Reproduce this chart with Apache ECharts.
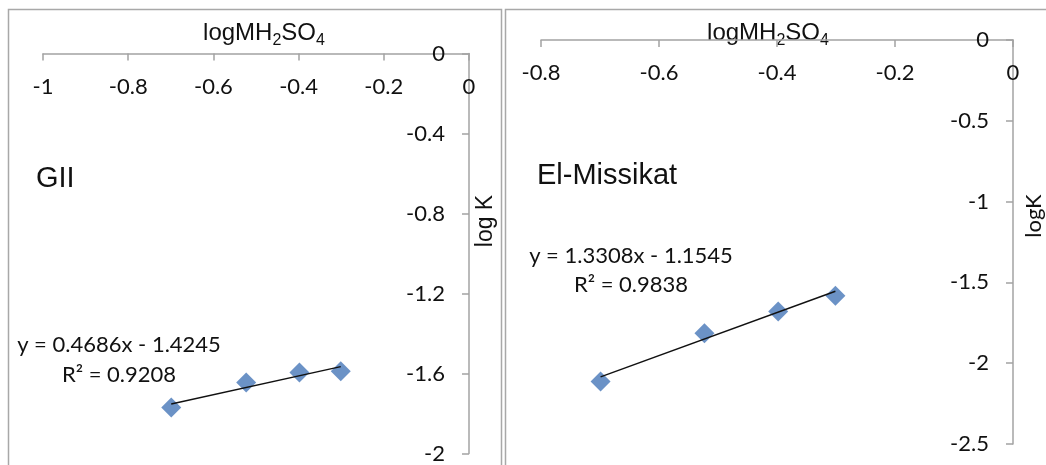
<!DOCTYPE html>
<html>
<head>
<meta charset="utf-8">
<script src="https://cdn.jsdelivr.net/npm/echarts@6/dist/echarts.min.js"></script>
<style>
html,body{margin:0;padding:0;background:#ffffff;}
#c{width:1046px;height:465px;}
</style>
</head>
<body>
<div id="c"></div>
<script>
// ---------- data ----------
const giiX = [-0.699, -0.523, -0.398, -0.301];
const giiY = [-1.770, -1.645, -1.595, -1.589];
const emX = [-0.699, -0.523, -0.398, -0.301];
const emY = [-2.113, -1.814, -1.680, -1.583];

const giiSlope = 0.4686, giiIntercept = -1.4245, giiR2 = 0.9208;
const emSlope = 1.3308, emIntercept = -1.1545, emR2 = 0.9838;

const giiXTicks = [-1, -0.8, -0.6, -0.4, -0.2, 0];
const giiYTicks = [-2, -1.6, -1.2, -0.8, -0.4, 0];
const emXTicks = [-0.8, -0.6, -0.4, -0.2, 0];
const emYTicks = [-2.5, -2, -1.5, -1, -0.5, 0];

const giiTitle = 'GII';
const emTitle = 'El-Missikat';
const xName = '{m|logMH}{s|2}{m|SO}{s|4}';
const giiYName = 'log K';
const emYName = 'logK';

// ---------- helpers ----------
function step(t) { return Math.round((t[1] - t[0]) * 1000) / 1000; }
function fitLine(xs, slope, intercept) {
  const x0 = Math.min.apply(null, xs), x1 = Math.max.apply(null, xs);
  return [[x0, slope * x0 + intercept], [x1, slope * x1 + intercept]];
}
function eqText(slope, intercept, r2) {
  return 'y = ' + slope.toFixed(4) + 'x ' + (intercept < 0 ? '- ' : '+ ') +
    Math.abs(intercept).toFixed(4) + '\nR\u00b2 = ' + r2.toFixed(4);
}
function zip(a, b) { return a.map((v, i) => [v, b[i]]); }

const axisColor = '#a3a3a3';
const textColor = '#111111';
const tickFont = 'Lato';

function xAxisCfg(grid, ticks, gap, pad) {
  return {
    gridIndex: grid, type: 'value', position: 'top',
    min: ticks[0], max: ticks[ticks.length - 1], interval: step(ticks),
    axisLine: { show: true, onZero: false, lineStyle: { color: axisColor, width: 1.5 } },
    axisTick: { show: true, inside: true, length: 7, lineStyle: { color: axisColor, width: 1.5 } },
    splitLine: { show: false },
    axisLabel: { inside: true, margin: 22, fontFamily: tickFont, fontSize: 22, color: textColor },
    name: xName, nameLocation: 'middle', nameGap: gap, nameMoveOverlap: false,
    nameTextStyle: {
      color: textColor, padding: pad,
      rich: {
        m: { fontFamily: 'Liberation Sans', fontSize: 24, lineHeight: 31, verticalAlign: 'middle', color: textColor },
        s: { fontFamily: 'Liberation Sans', fontSize: 16, lineHeight: 16, verticalAlign: 'bottom', color: textColor }
      }
    }
  };
}
function yAxisCfg(grid, ticks, name, nameFont, nameSize, gap, pad) {
  return {
    gridIndex: grid, type: 'value', position: 'right',
    min: ticks[0], max: ticks[ticks.length - 1], interval: step(ticks),
    axisLine: { show: true, onZero: false, lineStyle: { color: axisColor, width: 1.5 } },
    axisTick: { show: true, inside: true, length: 7, lineStyle: { color: axisColor, width: 1.5 } },
    splitLine: { show: false },
    axisLabel: { inside: true, margin: 24, fontFamily: tickFont, fontSize: 22, color: textColor },
    name: name, nameLocation: 'middle', nameRotate: 90, nameGap: gap, nameMoveOverlap: false,
    nameTextStyle: { fontFamily: nameFont, fontSize: nameSize, color: textColor, padding: pad }
  };
}

const chart = echarts.init(document.getElementById('c'), null, { renderer: 'canvas' });
chart.setOption({
  animation: false,
  backgroundColor: '#ffffff',
  grid: [
    { left: 43, top: 53.5, width: 426, height: 400, outerBoundsMode: 'none', containLabel: false },
    { left: 541, top: 40, width: 472, height: 404, outerBoundsMode: 'none', containLabel: false }
  ],
  xAxis: [
    xAxisCfg(0, giiXTicks, 5, [0, 0, 0, 16]),
    xAxisCfg(1, emXTicks, -9, [0, 18, 0, 0])
  ],
  yAxis: [
    yAxisCfg(0, giiYTicks, giiYName, 'Liberation Sans', 23, 5, [0, 0, 0, 65]),
    yAxisCfg(1, emYTicks, emYName, 'Lato', 22, 10, [0, 0, 0, 52])
  ],
  series: [
    { type: 'scatter', xAxisIndex: 0, yAxisIndex: 0, symbol: 'diamond', symbolSize: 20,
      itemStyle: { color: '#4677b8' }, data: zip(giiX, giiY), z: 2 },
    { type: 'line', xAxisIndex: 0, yAxisIndex: 0, showSymbol: false, symbol: 'none',
      lineStyle: { color: '#111111', width: 1.5 }, data: fitLine(giiX, giiSlope, giiIntercept), z: 3 },
    { type: 'scatter', xAxisIndex: 1, yAxisIndex: 1, symbol: 'diamond', symbolSize: 20,
      itemStyle: { color: '#4677b8' }, data: zip(emX, emY), z: 2 },
    { type: 'line', xAxisIndex: 1, yAxisIndex: 1, showSymbol: false, symbol: 'none',
      lineStyle: { color: '#111111', width: 1.5 }, data: fitLine(emX, emSlope, emIntercept), z: 3 }
  ],
  graphic: [
    { type: 'rect', z: -1, shape: { x: 8.5, y: 9.5, width: 493, height: 480 },
      style: { fill: 'none', stroke: '#a8a8a8', lineWidth: 1.5 } },
    { type: 'rect', z: -1, shape: { x: 505.5, y: 9.5, width: 560, height: 480 },
      style: { fill: 'none', stroke: '#a8a8a8', lineWidth: 1.5 } },
    { type: 'text', x: 36, y: 179,
      style: { text: giiTitle, fontFamily: 'Liberation Sans', fontSize: 29, fill: textColor, align: 'left', verticalAlign: 'middle' } },
    { type: 'text', x: 537, y: 176,
      style: { text: emTitle, fontFamily: 'Liberation Sans', fontSize: 29, fill: textColor, align: 'left', verticalAlign: 'middle' } },
    { type: 'text', x: 119, y: 360,
      style: { text: eqText(giiSlope, giiIntercept, giiR2), fontFamily: tickFont, fontSize: 22, lineHeight: 30, fill: textColor, align: 'center', verticalAlign: 'middle' } },
    { type: 'text', x: 631, y: 270,
      style: { text: eqText(emSlope, emIntercept, emR2), fontFamily: tickFont, fontSize: 22, lineHeight: 29, fill: textColor, align: 'center', verticalAlign: 'middle' } }
  ]
});
</script>
</body>
</html>
